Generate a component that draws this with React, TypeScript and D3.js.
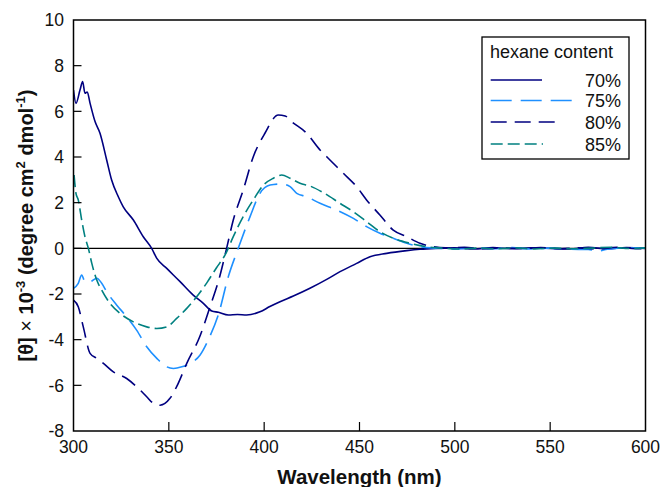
import * as d3 from "d3";

// wavelength (nm), [θ]·10^-3
const s70: [number, number][] = [
  [300, 6.93], [301.3, 6.35], [303.4, 6.93], [304.8, 7.3], [306, 6.79], [307.2, 6.85],
  [308.7, 6.35], [311.3, 5.55], [313.9, 5.04], [317.4, 3.87], [320, 2.99], [323.5, 2.26],
  [326.1, 1.82], [331.4, 1.24], [336.6, 0.51], [341, 0], [343.7, -0.44], [348.9, -0.88],
  [355.9, -1.46], [362.8, -2.05], [368.1, -2.41], [372.5, -2.74], [376, -2.8], [381.2, -2.92],
  [386, -2.9], [390.8, -2.92], [397.8, -2.78], [403, -2.55], [408.3, -2.34], [415.3, -2.09],
  [424, -1.75], [432.8, -1.36], [439.8, -1.02], [448.5, -0.66], [455.5, -0.37], [464.3, -0.22],
  [474.8, -0.1], [481.7, -0.04], [490, 0], [500, 0.02], [510, -0.03], [520, 0.03], [530, -0.02],
  [540, 0.02], [550, 0], [560, -0.03], [570, 0.04], [580, -0.02], [590, 0.03], [600, 0],
];

const s75: [number, number][] = [
  [300, -1.75], [302.5, -1.53], [304.3, -1.17], [306, -1.46], [308.7, -1.46], [312.2, -1.31],
  [314.8, -1.53], [317.4, -1.9], [322.6, -2.48], [327.9, -3.0], [333.1, -3.58], [338.4, -4.31],
  [343.7, -4.82], [348.9, -5.19], [352.4, -5.26], [356.8, -5.19], [361.1, -5.04], [366.3, -4.68],
  [371, -3.95], [376, -2.9], [381.2, -1.24], [386.4, 0], [392.6, 1.39], [397.8, 2.41],
  [403.1, 2.77], [409.2, 2.82], [413.6, 2.7], [417.1, 2.41], [422.3, 2.26], [429.3, 1.97],
  [438, 1.68], [446.8, 1.31], [453.7, 0.95], [460.7, 0.66], [467.7, 0.44], [474.8, 0.22],
  [481.7, 0.07], [490, 0.01], [500, -0.03], [510, 0.02], [520, -0.02], [530, 0.03], [540, -0.03],
  [550, 0.01], [560, -0.04], [570, -0.05], [575, -0.12], [580, -0.04], [590, 0.02], [600, 0.01],
];

const s80: [number, number][] = [
  [300, -2.27], [302.5, -2.56], [305.1, -3.43], [308.7, -4.6], [312.2, -4.82], [315.7, -5.04],
  [320.9, -5.41], [327.9, -5.7], [333.1, -6.06], [338.4, -6.5], [341.9, -6.79], [345.4, -6.87],
  [350.6, -6.57], [354.1, -6.06], [359.4, -5.04], [366.3, -3.85], [371.6, -2.56], [376.8, -1.2],
  [380.3, 0], [383.8, 1.24], [389, 2.55], [394.3, 4.01], [400.4, 5.04], [407.4, 5.84],
  [411, 5.8], [414.4, 5.55], [422.3, 5.04], [429.3, 4.31], [434.5, 3.87], [441.5, 3.29],
  [448.5, 2.7], [453.7, 2.12], [460.7, 1.46], [467.7, 0.8], [474.8, 0.51], [481.7, 0.22],
  [488.7, 0.07], [495, 0.02], [505, 0.04], [515, -0.02], [525, 0.02], [535, -0.01], [545, 0.03],
  [555, -0.02], [565, 0.02], [575, -0.03], [585, 0.05], [595, -0.02], [600, 0],
];

const s85: [number, number][] = [
  [300.3, 3.21], [301.3, 2.41], [302.5, 2.12], [304.3, 1.24], [306, 0.51], [307.8, 0],
  [309.6, -0.66], [312.2, -1.39], [314.8, -1.83], [319.1, -2.41], [324.4, -2.85], [331.4, -3.22],
  [338.4, -3.44], [343.7, -3.51], [348.9, -3.44], [354.1, -3.07], [359.4, -2.63], [364.6, -2.12],
  [370, -1.5], [375, -0.85], [379.5, -0.29], [383.8, 0.51], [389, 1.39], [394.3, 2.12],
  [399.6, 2.77], [404.8, 3.07], [409.2, 3.21], [413.6, 3.07], [418.8, 2.85], [424, 2.73],
  [431, 2.44], [439.8, 1.97], [446.8, 1.6], [453.7, 1.17], [460.7, 0.73], [467.7, 0.44],
  [476.6, 0.22], [485.3, 0.07], [492, 0.02], [502, -0.03], [512, 0.01], [522, -0.02], [532, 0.02],
  [542, -0.03], [552, 0.01], [562, -0.02], [572, 0.01], [582, 0.05], [592, -0.01], [600, 0.02],
];

const seriesNames = ["70%", "75%", "80%", "85%"];
const seriesData = [s70, s75, s80, s85];
const colors = ["#000080", "#1e90ff", "#000080", "#008080"];
const dashes = ["none", "21,9", "16,8", "12,5"];

const xTicks = [300, 350, 400, 450, 500, 550, 600];
const yTicks = [-8, -6, -4, -2, 0, 2, 4, 6, 8, 10];

const W = 662;
const H = 487;
const left = 73.5;
const right = 645.5;
const top = 20;
const bottom = 431;
const font = "'Liberation Sans', Arial, sans-serif";

export default function App() {
  const x = d3.scaleLinear().domain([300, 600]).range([left, right]);
  const y = d3.scaleLinear().domain([-8, 10]).range([bottom, top]);
  const line = d3
    .line<[number, number]>()
    .x((d) => x(d[0]))
    .y((d) => y(d[1]))
    .curve(d3.curveMonotoneX);

  // legend placement
  const lg = { x: 482, y: 37, w: 147, h: 122 };
  const rowY = [80, 100.5, 122, 144];
  const lineEnd = [542, 573, 555, 543];

  return (
    <svg
      width={W}
      height={H}
      style={{ position: "absolute", left: 0, top: 0, background: "#fff" }}
      fontFamily={font}
    >
      <defs>
        <clipPath id="plot">
          <rect x={left} y={top} width={right - left} height={bottom - top} />
        </clipPath>
      </defs>

      {/* zero line */}
      <line x1={left} x2={right} y1={y(0)} y2={y(0)} stroke="#000" strokeWidth={1.2} />

      <g clipPath="url(#plot)">
        {seriesData.map((s, i) => (
          <path
            key={seriesNames[i]}
            d={line(s) ?? ""}
            fill="none"
            stroke={colors[i]}
            strokeWidth={1.6}
            strokeDasharray={dashes[i]}
          />
        ))}
      </g>

      {/* frame */}
      <rect x={left} y={top} width={right - left} height={bottom - top} fill="none" stroke="#000" strokeWidth={1.5} />

      {/* y ticks */}
      {yTicks.map((t) => (
        <g key={"y" + t}>
          {t > -8 && t < 10 && (
            <line x1={left} x2={left + 8} y1={y(t)} y2={y(t)} stroke="#000" strokeWidth={1.2} />
          )}
          <text x={64} y={y(t)} dy="0.36em" textAnchor="end" fontSize={17.5} fill="#111">
            {t}
          </text>
        </g>
      ))}

      {/* x ticks */}
      {xTicks.map((t) => (
        <g key={"x" + t}>
          {t > 300 && t < 600 && (
            <line x1={x(t)} x2={x(t)} y1={bottom} y2={bottom - 9} stroke="#000" strokeWidth={1.2} />
          )}
          <text x={x(t)} y={453} textAnchor="middle" fontSize={17.5} fill="#111">
            {t}
          </text>
        </g>
      ))}

      {/* axis titles */}
      <text x={(left + right) / 2} y={484} textAnchor="middle" fontSize={20.5} fontWeight="bold" fill="#111">
        Wavelength (nm)
      </text>
      <text
        transform={`translate(33,${(top + bottom) / 2}) rotate(-90)`}
        textAnchor="middle"
        fontSize={20}
        fontWeight="bold"
        fill="#111"
      >
        [θ] <tspan fontWeight="normal">×</tspan> 10<tspan fontSize={13} dy={-8}>-3</tspan>
        <tspan dy={8}> (degree cm</tspan>
        <tspan fontSize={13} dy={-8}>2</tspan>
        <tspan dy={8}> dmol</tspan>
        <tspan fontSize={13} dy={-8}>-1</tspan>
        <tspan dy={8}>)</tspan>
      </text>

      {/* legend */}
      <rect x={lg.x} y={lg.y} width={lg.w} height={lg.h} fill="#fff" stroke="#000" strokeWidth={1.3} />
      <text x={490} y={58} fontSize={18} fill="#111">
        hexane content
      </text>
      {seriesNames.map((n, i) => (
        <g key={"lg" + n}>
          <line
            x1={490.7}
            x2={lineEnd[i]}
            y1={rowY[i]}
            y2={rowY[i]}
            stroke={colors[i]}
            strokeWidth={1.6}
            strokeDasharray={dashes[i]}
          />
          <text x={621} y={rowY[i] + 6.5} textAnchor="end" fontSize={18} fill="#111">
            {n}
          </text>
        </g>
      ))}
    </svg>
  );
}
